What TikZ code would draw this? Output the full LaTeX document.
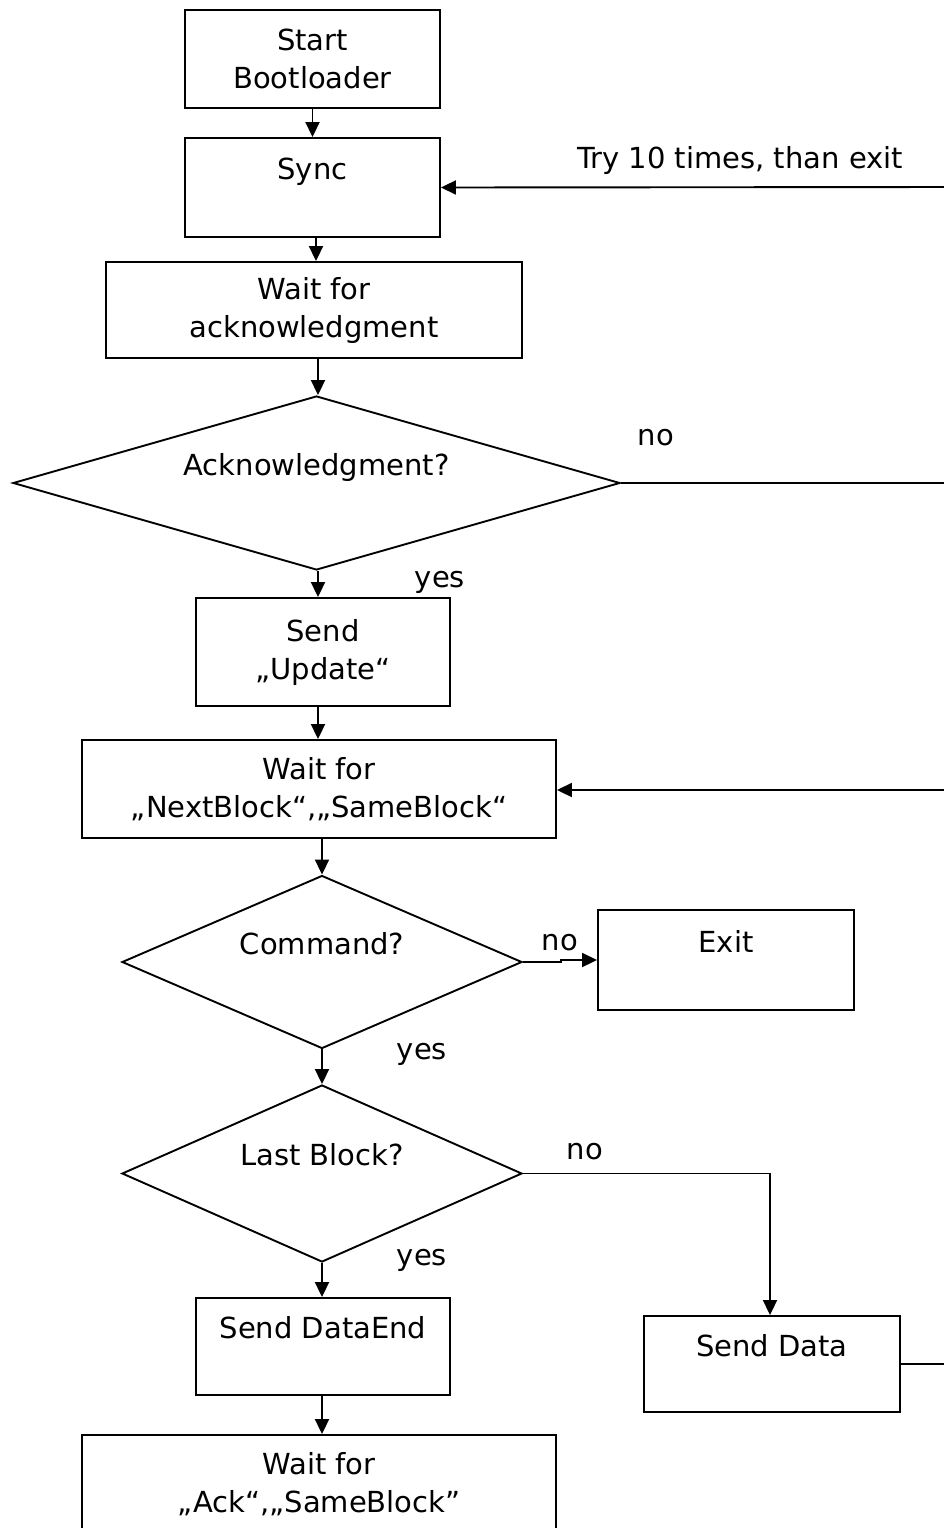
\documentclass[tikz,border=0pt]{standalone}
\usepackage{fontspec}
\setmainfont{DejaVu Sans}
\usetikzlibrary{shapes.geometric,arrows.meta}
\begin{document}
\begin{tikzpicture}[x=1pt,y=-1pt,
  every node/.style={font=\fontsize{29}{38}\selectfont},
  box/.style={draw,line width=1.9pt,rectangle,align=center,inner sep=0pt},
  dia/.style={draw,line width=1.9pt,diamond,align=center,inner sep=0pt},
  arr/.style={line width=1.9pt,-{Triangle[length=15pt,width=14pt]}},
  ln/.style={line width=1.9pt},
  lbl/.style={inner sep=0pt}]
\useasboundingbox (0,0) rectangle (944,1528);
\fill[white] (0,0) rectangle (944,1528);
% boxes
\node[box,minimum width=255,minimum height=98] (start) at (312.5,59) {Start\\Bootloader};
\node[box,minimum width=255,minimum height=99] (sync) at (312.5,187.5) {Sync\\\mbox{}};
\node[box,minimum width=416,minimum height=96] (waitack) at (314,310) {Wait for\\acknowledgment};
\node[dia,aspect=3.49,minimum width=607,minimum height=174] (ack) at (316.5,483) {Acknowledgment?\\\mbox{}};
\node[box,minimum width=254,minimum height=108] (update) at (323,652) {Send\\„Update“};
\node[box,minimum width=474,minimum height=98] (waitnb) at (319,789) {Wait for\\„NextBlock“,„SameBlock“};
\node[dia,aspect=2.31,minimum width=400,minimum height=173] (cmd) at (322,962) {Command?\\\mbox{}};
\node[box,minimum width=256,minimum height=100] (exit) at (726,960) {Exit\\\mbox{}};
\node[dia,aspect=2.26,minimum width=400,minimum height=177] (last) at (322,1173.5) {Last Block?\\\mbox{}};
\node[box,minimum width=254,minimum height=97] (dataend) at (323,1346.5) {Send DataEnd\\\mbox{}};
\node[box,minimum width=256,minimum height=96] (senddata) at (772,1364) {Send Data\\\mbox{}};
\node[box,minimum width=474,minimum height=98] (waitack2) at (319,1484) {Wait for\\„Ack“,„SameBlock”};
% edge coordinates
\coordinate (r1) at (960,187);
\coordinate (r2) at (960,483);
\coordinate (r3) at (960,790);
\coordinate (r4) at (960,1364);
% connectors
\draw[arr] (start.south) -- (start.south |- sync.north);
\draw[arr] ([xshift=3.5pt]sync.south) -- ([xshift=3.5pt]sync.south |- waitack.north);
\draw[arr] ([xshift=4pt]waitack.south) -- ([xshift=4pt]waitack.south |- ack.north);
\draw[arr] ([xshift=1.5pt]ack.south) -- ([xshift=1.5pt]ack.south |- update.north);
\draw[arr] ([xshift=-5pt]update.south) -- ([xshift=-5pt]update.south |- waitnb.north);
\draw[arr] ([xshift=3pt]waitnb.south) -- ([xshift=3pt]waitnb.south |- cmd.north);
\draw[arr] (cmd.south) -- (last.north);
\draw[arr] (last.south) -- (last.south |- dataend.north);
\draw[arr] ([xshift=-1pt]dataend.south) -- ([xshift=-1pt]dataend.south |- waitack2.north);
\draw[arr] (r1) -- (sync.east);
\draw[ln] (ack.east) -- (r2);
\draw[arr] (r3) -- (waitnb.east |- r3);
\draw[arr] (cmd.east) -- ++(38,0) -- ++(0,-2) -- (exit.west);
\draw[arr] (last.east) -| ([xshift=-2pt]senddata.north);
\draw[ln] (senddata.east) -- (r4);
% labels
\node[lbl] (t1) at (740,160) {Try 10 times, than exit};
\node[lbl] (n1) at (656,438) {no};
\node[lbl] (y1) at (440,582) {yes};
\node[lbl] (n2) at (560,943) {no};
\node[lbl] (y2) at (422,1054) {yes};
\node[lbl] (n3) at (585,1152) {no};
\node[lbl] (y3) at (422,1260) {yes};
\end{tikzpicture}
\end{document}
